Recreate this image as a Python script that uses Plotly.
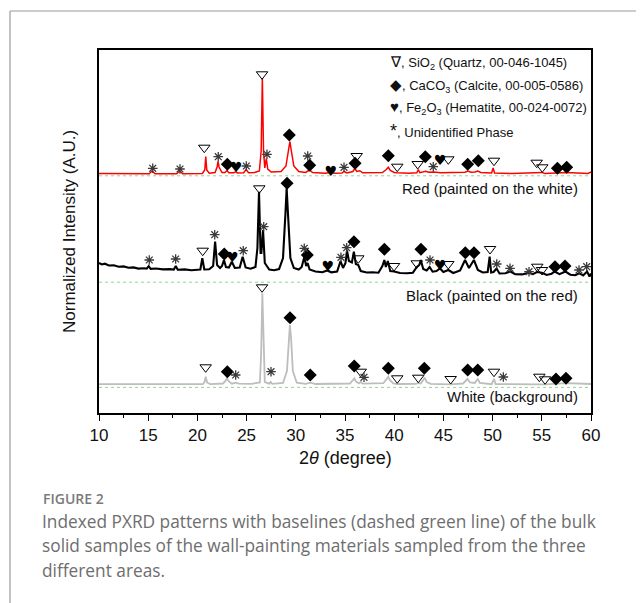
import plotly.graph_objects as go

# ---------------- data (2theta in degrees, intensity in arbitrary offset units) ----------------
RED_2THETA = [10.0, 12.0, 14.0, 15.1, 15.4, 15.7, 17.9, 18.2, 18.5, 20.5, 20.75, 20.85, 20.95, 21.2,
              21.8, 22.0, 22.1, 22.2, 22.5, 22.8, 23.0, 23.2, 23.7, 23.9, 24.1, 24.7, 24.95, 25.2,
              25.8, 26.3, 26.48, 26.6, 26.72, 26.85, 27.0, 27.15, 27.5, 28.5, 29.0, 29.25, 29.4,
              29.55, 29.8, 30.3, 31.0, 31.4, 31.7, 33.0, 33.5, 34.0, 34.7, 34.9, 35.2, 35.8, 36.0,
              36.2, 36.5, 36.8, 38.8, 39.2, 39.4, 39.6, 40.0, 40.3, 41.5, 42.3, 42.45, 42.6, 43.0,
              43.2, 43.5, 44.0, 44.7, 45.5, 46.5, 47.2, 47.5, 47.8, 48.2, 48.5, 48.8, 49.9, 50.05,
              50.2, 52.0, 54.5, 55.0, 55.3, 56.6, 57.5, 59.7, 60.0]
RED_INT = [239.5, 239.2, 239.3, 239.2, 242.0, 239.3, 239.3, 242.0, 239.2, 239.5, 243.0, 256.5, 243.0, 239.8,
           240.5, 246.0, 251.5, 246.0, 240.5, 240.5, 242.5, 240.3, 240.3, 241.2, 240.0, 240.3, 243.5, 240.3,
           240.5, 242.0, 262.0, 334.7, 262.0, 245.0, 254.5, 244.0, 241.0, 241.5, 247.0, 262.0, 271.5,
           262.0, 247.0, 241.5, 240.5, 243.0, 240.5, 239.8, 240.5, 239.8, 240.0, 241.5, 240.0, 241.5, 244.5,
           241.5, 242.3, 240.2, 240.5, 243.5, 245.7, 242.5, 240.5, 240.2, 239.8, 240.3, 243.5, 240.3, 241.3,
           241.8, 240.8, 241.0, 240.3, 240.5, 240.0, 240.8, 242.0, 240.8, 241.0, 242.0, 240.5, 240.0, 245.0,
           240.0, 239.5, 240.0, 240.6, 239.6, 240.0, 240.4, 239.5, 241.0]

BLACK_2THETA = [10.0, 10.3, 10.6, 11.0, 11.5, 12.0, 12.5, 13.0, 13.5, 14.0, 14.6, 14.85, 15.05, 15.25,
                15.8, 16.5, 17.2, 17.6, 17.8, 18.0, 18.7, 19.4, 20.0, 20.3, 20.5, 20.7, 21.2, 21.6,
                21.8, 22.0, 22.3, 22.5, 22.7, 22.9, 23.2, 23.5, 23.8, 24.3, 24.6, 24.9, 25.4, 25.9,
                26.1, 26.26, 26.42, 26.5, 26.67, 26.85, 27.3, 27.8, 28.3, 28.7, 28.95, 29.07, 29.2,
                29.45, 29.8, 30.3, 30.6, 30.87, 31.05, 31.2, 31.4, 32.0, 32.7, 33.2, 33.6, 34.2, 34.55,
                34.8, 35.05, 35.2, 35.4, 35.7, 35.9, 36.1, 36.35, 36.6, 37.2, 37.8, 38.4, 38.8, 39.0,
                39.15, 39.35, 39.6, 40.0, 40.6, 41.3, 41.9, 42.3, 42.55, 42.7, 42.95, 43.3, 43.6, 43.9,
                44.3, 44.65, 45.0, 45.5, 46.0, 46.7, 47.2, 47.6, 48.1, 48.5, 49.0, 49.5, 49.7, 49.85,
                50.1, 50.4, 50.7, 51.3, 51.8, 52.3, 53.0, 53.7, 54.1, 54.5, 55.0, 55.5, 56.0, 56.3,
                56.8, 57.4, 57.9, 58.4, 58.8, 59.2, 59.6, 59.85, 60.0]
BLACK_INT = [150.0, 148.5, 149.3, 147.5, 147.8, 146.3, 146.6, 145.2, 145.6, 144.4, 144.8, 144.3, 146.8, 144.2,
             144.5, 143.6, 143.9, 143.4, 147.0, 143.3, 143.6, 142.8, 143.3, 143.5, 154.7, 143.5, 143.8, 147.0,
             171.3, 148.0, 145.0, 147.0, 153.0, 146.0, 145.5, 151.3, 145.0, 145.5, 156.3, 145.5, 144.3, 146.0,
             165.0, 221.3, 160.0, 160.0, 183.0, 150.0, 143.5, 142.8, 144.0, 155.0, 200.0, 224.7, 200.0,
             155.0, 145.0, 143.5, 146.0, 156.3, 147.0, 150.0, 143.5, 141.5, 140.8, 142.5, 140.7, 141.5, 152.0,
             145.0, 150.0, 162.5, 152.0, 150.5, 161.3, 149.0, 148.0, 142.0, 140.5, 140.8, 140.3, 147.0, 153.0,
             146.0, 152.0, 142.0, 141.5, 140.0, 139.8, 140.3, 146.0, 148.0, 153.0, 144.0, 142.5, 146.0, 141.3,
             142.0, 144.5, 141.0, 143.0, 140.0, 142.5, 153.0, 145.0, 153.0, 143.0, 140.5, 141.0, 156.3, 140.5,
             141.0, 144.5, 139.5, 139.8, 141.5, 138.8, 138.6, 140.3, 138.8, 141.0, 140.2, 138.0, 139.3, 141.5,
             138.8, 141.5, 138.3, 137.8, 139.8, 137.5, 141.5, 136.5, 139.5]

WHITE_2THETA = [10.0, 13.0, 16.0, 19.0, 20.55, 20.72, 20.85, 20.98, 21.3, 22.6, 22.85, 23.0, 23.2, 23.5,
                23.9, 24.2, 25.5, 26.35, 26.48, 26.6, 26.72, 26.85, 27.3, 27.45, 27.6, 28.7, 29.1, 29.28,
                29.4, 29.52, 29.7, 30.1, 31.0, 31.5, 32.0, 35.5, 35.8, 35.95, 36.1, 36.4, 36.6, 36.8,
                38.9, 39.25, 39.4, 39.55, 39.9, 40.3, 42.2, 42.45, 42.7, 42.95, 43.1, 43.3, 43.7, 45.7,
                47.0, 47.3, 47.45, 47.7, 48.2, 48.4, 48.5, 48.7, 49.9, 50.05, 50.15, 50.3, 51.1, 54.7,
                55.3, 56.3, 56.5, 57.5, 60.0]
WHITE_INT = [28.8, 28.7, 28.6, 28.7, 28.8, 31.0, 36.3, 30.5, 28.9, 29.5, 32.0, 34.7, 31.5, 29.3,
             30.3, 29.3, 29.2, 30.5, 60.0, 119.7, 60.0, 31.0, 29.3, 31.0, 29.2, 30.0, 42.0, 75.0,
             88.0, 75.0, 42.0, 30.3, 29.2, 30.3, 29.0, 29.5, 32.5, 34.7, 31.5, 29.5, 31.0, 29.3,
             29.8, 34.0, 36.3, 33.0, 29.5, 29.0, 29.2, 30.0, 29.5, 33.0, 35.3, 31.0, 29.2, 28.7,
             29.5, 32.5, 34.0, 30.5, 30.0, 33.0, 34.0, 30.0, 28.8, 32.0, 34.0, 29.0, 28.8, 28.6,
             28.6, 29.0, 29.5, 29.8, 29.0]

BASELINE_LEVELS = [237.2, 130.8, 25.6]          # red, black, white (dashed green)
SAMPLE_LABELS = ["Red (painted on the white)", "Black (painted on the red)", "White (background)"]
SAMPLE_LABEL_Y = [224.7, 118.0, 16.3]

# phase index markers (2theta, level)
QUARTZ_2THETA = [26.57, 20.70, 36.19, 40.31, 42.39, 45.50, 50.14, 54.48, 55.05,
                 20.54, 26.29, 36.35, 39.98, 42.29, 45.50, 49.74, 54.54, 55.02,
                 20.84, 26.57, 36.60, 40.31, 42.45, 45.74, 50.14, 54.75, 55.33]
QUARTZ_Y = [338.7, 265.3, 257.0, 246.3, 249.0, 253.7, 252.3, 250.3, 245.7,
            162.3, 224.7, 154.7, 147.0, 149.7, 149.0, 164.0, 146.3, 143.0,
            45.7, 125.7, 41.3, 34.7, 35.3, 34.0, 41.3, 36.3, 33.7]
CALCITE_2THETA = [23.04, 29.34, 31.41, 36.02, 39.40, 43.16, 47.47, 48.55, 56.58, 57.53,
                  22.73, 29.11, 31.17, 35.91, 39.00, 42.72, 47.23, 48.11, 56.34, 57.36,
                  23.04, 29.41, 31.47, 35.94, 39.40, 43.06, 47.47, 48.49, 56.44, 57.46]
CALCITE_Y = [248.7, 278.0, 247.7, 249.7, 257.3, 256.3, 248.7, 252.3, 244.7, 245.7,
             159.0, 229.7, 158.0, 171.3, 163.7, 163.7, 160.3, 160.3, 146.3, 147.0,
             41.3, 95.3, 38.0, 47.0, 44.7, 44.7, 43.0, 43.0, 34.0, 34.7]
HEMATITE_2THETA = [23.92, 33.55, 44.65, 23.55, 33.24, 44.65]
HEMATITE_Y = [247.3, 243.0, 253.7, 157.0, 148.0, 149.0]
UNIDENT_2THETA = [15.46, 18.23, 22.12, 24.97, 27.07, 31.21, 34.90, 43.97,
                  15.11, 17.79, 21.76, 24.66, 26.74, 30.86, 34.59, 35.17, 43.64, 50.42, 51.77, 53.70, 58.78, 59.56,
                  23.89, 27.48, 36.93, 51.09]
UNIDENT_Y = [244.7, 244.0, 256.3, 247.0, 258.7, 257.0, 245.7, 246.3,
             153.0, 154.0, 178.3, 162.3, 186.3, 164.7, 155.7, 165.3, 153.0, 149.0, 144.7, 141.3, 143.0, 146.3,
             38.0, 41.3, 35.7, 36.0]

X_TICKS = [10, 15, 20, 25, 30, 35, 40, 45, 50, 55, 60]

LEGEND_LINES = [
    "<span style='font-size:15px'>∇</span>, SiO<sub>2</sub> (Quartz, 00-046-1045)",
    "<span style='font-size:15px'>◆</span>, CaCO<sub>3</sub> (Calcite, 00-005-0586)",
    "<span style='font-size:15px'>♥</span>, Fe<sub>2</sub>O<sub>3</sub> (Hematite, 00-024-0072)",
    "<span style='font-size:18px'>*</span>, Unidentified Phase",
]
CAPTION_TITLE = "FIGURE 2"
CAPTION_LINES = [
    "Indexed PXRD patterns with baselines (dashed green line) of the bulk",
    "solid samples of the wall-painting materials sampled from the three",
    "different areas.",
]

# ---------------- layout geometry (page pixels; page body has an 8px margin) ----------------
W, H = 644, 603
OFF = 8
PL, PR, PT, PB = 99, 591, 50, 413          # plot area in page pixels
PW, PH = PR - PL, PB - PT


def px_x(px):
    return (px - PL) / PW


def px_y(py):
    return (PB - py) / PH


FONT = "Liberation Sans, Arial, sans-serif"

fig = go.Figure()

# dashed baselines
for lvl in BASELINE_LEVELS:
    fig.add_trace(go.Scatter(x=[X_TICKS[0], X_TICKS[-1]], y=[lvl, lvl], mode="lines",
                             line=dict(color="#8fd68f", width=1, dash="3px,3px"),
                             hoverinfo="skip", showlegend=False))

# patterns
for xs, ys, col, w in [(WHITE_2THETA, WHITE_INT, "#bdbdbd", 1.8),
                       (BLACK_2THETA, BLACK_INT, "#000000", 2.1),
                       (RED_2THETA, RED_INT, "#ff0000", 1.5)]:
    fig.add_trace(go.Scatter(x=xs, y=ys, mode="lines", line=dict(color=col, width=w),
                             showlegend=False))

# phase markers
fig.add_trace(go.Scatter(x=QUARTZ_2THETA, y=QUARTZ_Y, mode="markers", cliponaxis=False,
                         marker=dict(symbol="triangle-down-open", size=10, color="#000",
                                     line=dict(width=1, color="#000")), showlegend=False))
fig.add_trace(go.Scatter(x=CALCITE_2THETA, y=CALCITE_Y, mode="markers", cliponaxis=False,
                         marker=dict(symbol="diamond", size=10, color="#000",
                                     line=dict(width=0)), showlegend=False))
fig.add_trace(go.Scatter(x=HEMATITE_2THETA, y=[v - 2.5 for v in HEMATITE_Y], mode="text", cliponaxis=False,
                         text=["♥"] * len(HEMATITE_2THETA), textposition="middle center",
                         textfont=dict(family="DejaVu Sans", size=14, color="#000"), showlegend=False))
fig.add_trace(go.Scatter(x=UNIDENT_2THETA, y=UNIDENT_Y, mode="markers", cliponaxis=False,
                         marker=dict(symbol="asterisk-open", size=8, color="#3a3a3a",
                                     line=dict(width=1.3, color="#3a3a3a")), showlegend=False))

annotations = []
# sample labels
for lab, yv in zip(SAMPLE_LABELS, SAMPLE_LABEL_Y):
    annotations.append(dict(x=px_x(580), xref="paper", y=yv, yref="y", text=lab, showarrow=False,
                            xanchor="right", yanchor="middle", font=dict(family=FONT, size=15, color="#111")))
# legend block
for i, line in enumerate(LEGEND_LINES):
    annotations.append(dict(x=px_x(388), y=px_y(62 + 23 * i), xref="paper", yref="paper", text=line,
                            showarrow=False, xanchor="left", yanchor="middle",
                            font=dict(family=FONT, size=13, color="#111")))
# axis titles
annotations.append(dict(x=px_x(70), y=px_y(232), xref="paper", yref="paper",
                        text="Normalized Intensity (A.U.)", textangle=-90, showarrow=False,
                        xanchor="center", yanchor="middle", font=dict(family=FONT, size=17, color="#111")))
annotations.append(dict(x=px_x(345), y=px_y(458), xref="paper", yref="paper",
                        text="2<i>θ</i> (degree)", showarrow=False,
                        xanchor="center", yanchor="middle", font=dict(family=FONT, size=18, color="#111")))
# caption
annotations.append(dict(x=px_x(41), y=px_y(498), xref="paper", yref="paper", text=CAPTION_TITLE,
                        showarrow=False, xanchor="left", yanchor="middle",
                        font=dict(family="Open Sans", size=14, color="#7a7a7a", weight=600)))
for i, line in enumerate(CAPTION_LINES):
    annotations.append(dict(x=px_x(40), y=px_y(521 + 24.5 * i), xref="paper", yref="paper", text=line,
                            showarrow=False, xanchor="left", yanchor="middle",
                            font=dict(family="Open Sans", size=17.3, color="#6e6e6e")))

# outer panel border (top + left)
shapes = [
    dict(type="line", xref="paper", yref="paper", x0=px_x(10), y0=px_y(11), x1=px_x(660), y1=px_y(11),
         line=dict(color="#9a9a9a", width=1.2)),
    dict(type="line", xref="paper", yref="paper", x0=px_x(10), y0=px_y(11), x1=px_x(10), y1=px_y(620),
         line=dict(color="#9a9a9a", width=1.2)),
]

fig.update_layout(
    width=W, height=H,
    margin=dict(l=PL - OFF, r=W - (PR - OFF), t=PT - OFF, b=H - (PB - OFF)),
    paper_bgcolor="white", plot_bgcolor="white",
    annotations=annotations, shapes=shapes, showlegend=False,
    xaxis=dict(range=[10, 60], tickvals=X_TICKS, ticks="outside", ticklen=6, tickwidth=1.2,
               tickcolor="#000", showline=True, linecolor="#000", linewidth=1.5, mirror=True,
               showgrid=False, zeroline=False, tickfont=dict(family=FONT, size=17, color="#111"),
               minor=dict(dtick=2.5, ticks="outside", ticklen=3, tickcolor="#000", tickwidth=1.2)),
    yaxis=dict(range=[0, PH], showticklabels=False, ticks="", showline=True, linecolor="#000",
               linewidth=1.5, mirror=True, showgrid=False, zeroline=False),
)

fig.write_html("out.html")
